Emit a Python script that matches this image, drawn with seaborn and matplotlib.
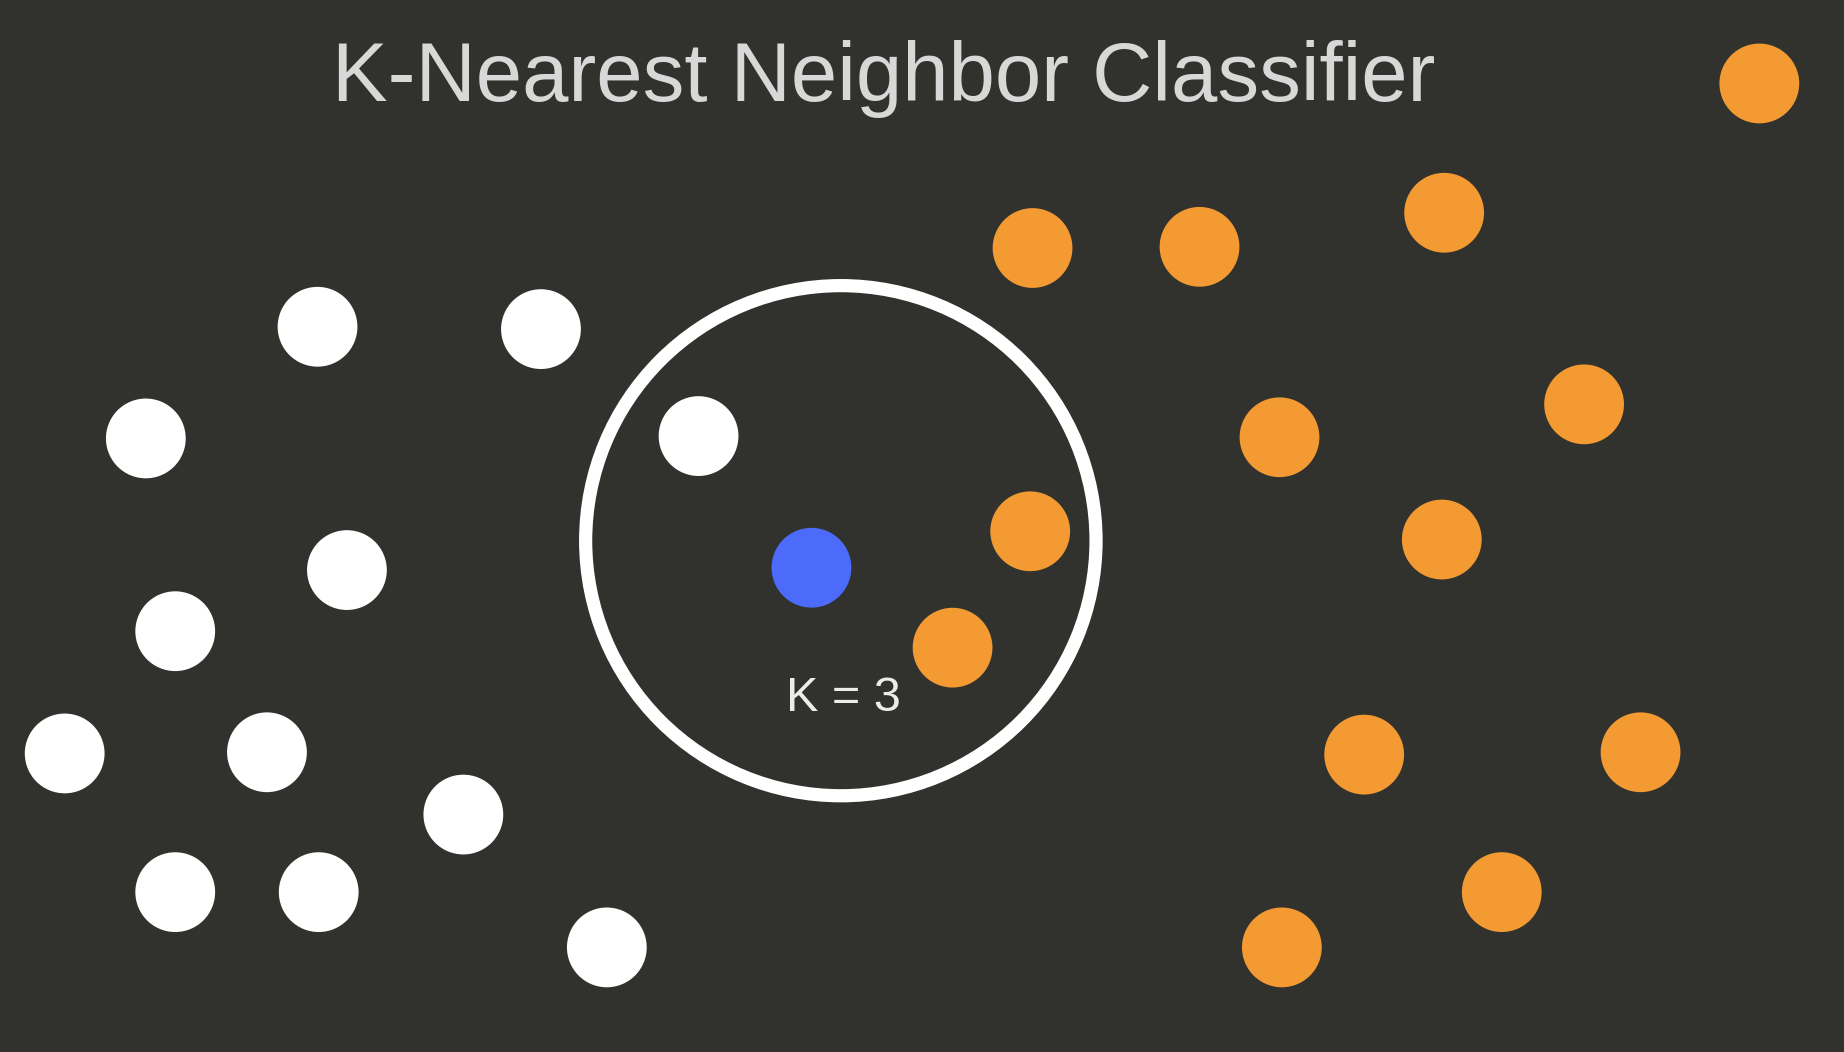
import pandas as pd
import matplotlib.pyplot as plt
import seaborn as sns
from matplotlib.patches import Circle

# Point positions (pixel-like units, y grows downward)
white_x = [270, 460, 124, 594, 295, 149, 55, 227, 394, 149, 271, 516]
white_y = [278, 280, 373, 371, 485, 537, 641, 640, 693, 759, 759, 806]

orange_x = [1496, 878, 1020, 1228, 1088, 1347, 876, 1226, 810, 1160, 1395, 1277, 1090]
orange_y = [71, 211, 210, 181, 372, 344, 452, 459, 551, 642, 640, 759, 806]

query_x = [690]
query_y = [483]

k_value = 3
ring_center = (715, 460)
ring_radius = 217

bg = "#31312d"
palette = {"A": "#ffffff", "B": "#f49a32", "Query": "#4c6bfb"}

df = pd.DataFrame({
    "x": white_x + orange_x + query_x,
    "y": white_y + orange_y + query_y,
    "cls": ["A"] * len(white_x) + ["B"] * len(orange_x) + ["Query"] * len(query_x),
})

sns.set_theme(style="white")
plt.rcParams['font.family'] = ['Liberation Sans', 'DejaVu Sans']

fig = plt.figure(figsize=(18.44, 10.52), dpi=100, facecolor=bg)
ax = fig.add_axes([0, 0, 1, 1])
ax.set_facecolor(bg)

# neighbourhood ring
ax.add_patch(Circle(ring_center, ring_radius, fill=False, edgecolor="white", linewidth=9.5, zorder=1))

sns.scatterplot(data=df, x="x", y="y", hue="cls", palette=palette, s=3300,
                linewidth=0, legend=False, ax=ax, zorder=2)

ax.text(751, 86, "K-Nearest Neighbor Classifier", ha="center", va="baseline",
        fontsize=60, color="#d8d8d8")
ax.text(717, 594, f"K = {k_value}", ha="center", va="center", fontsize=35, color="#ececec")

ax.set_xlim(0, 1568)
ax.set_ylim(895, 0)
ax.set_xlabel('')
ax.set_ylabel('')
ax.set_xticks([])
ax.set_yticks([])
for s in ax.spines.values():
    s.set_visible(False)

plt.savefig("out.png", dpi=100, facecolor=bg)
